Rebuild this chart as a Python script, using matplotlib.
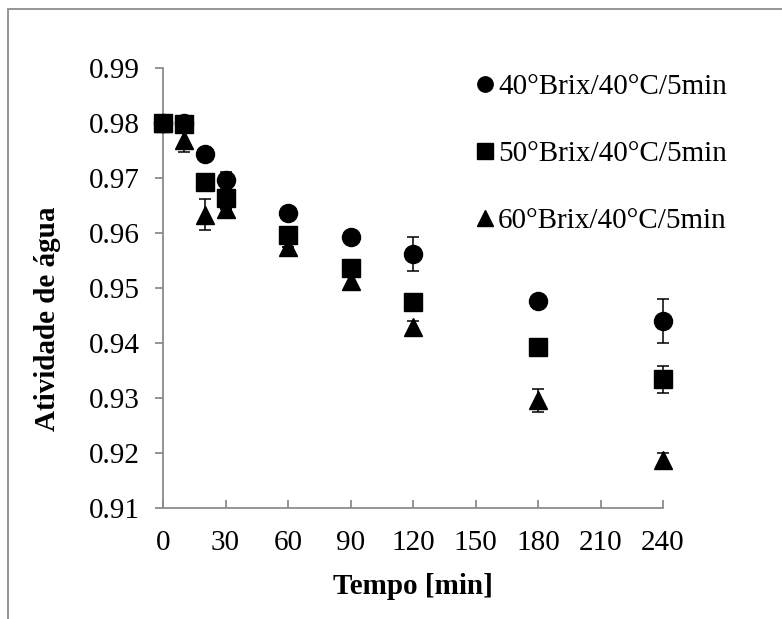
import numpy as np
import matplotlib
matplotlib.use("Agg")
import matplotlib.pyplot as plt
from matplotlib.patches import Rectangle

plt.rcParams['font.family'] = ['Liberation Serif', 'DejaVu Serif']

# Time points (min)
tempo = [0, 10, 20, 30, 60, 90, 120, 180, 240]

# Water activity for each treatment, with standard deviation
aw_40 = [0.9800, 0.9800, 0.9744, 0.9696, 0.9637, 0.9593, 0.9562, 0.9477, 0.9440]
sd_40 = [0.0000, 0.0000, 0.0000, 0.0015, 0.0000, 0.0000, 0.0031, 0.0000, 0.0040]

aw_50 = [0.9800, 0.9798, 0.9693, 0.9664, 0.9596, 0.9536, 0.9474, 0.9393, 0.9334]
sd_50 = [0.0000, 0.0000, 0.0000, 0.0010, 0.0000, 0.0000, 0.0000, 0.0005, 0.0025]

aw_60 = [0.9800, 0.9769, 0.9633, 0.9644, 0.9575, 0.9513, 0.9430, 0.9296, 0.9187]
sd_60 = [0.0000, 0.0022, 0.0028, 0.0000, 0.0000, 0.0010, 0.0010, 0.0021, 0.0013]

labels = ['40°Brix/40°C/5min', '50°Brix/40°C/5min', '60°Brix/40°C/5min']
markers = ['o', 's', '^']

x_ticks = [0, 30, 60, 90, 120, 150, 180, 210, 240]
y_ticks = [0.91, 0.92, 0.93, 0.94, 0.95, 0.96, 0.97, 0.98, 0.99]

FS = 21

fig = plt.figure(figsize=(7.82, 6.19), dpi=100)
ax = fig.add_axes([163/782, 1 - 508/619, 500/782, 440/619])

series = [(aw_40, sd_40), (aw_50, sd_50), (aw_60, sd_60)]
handles = []
for (y, sd), m, lab in zip(series, markers, labels):
    eb = ax.errorbar(tempo, y, yerr=sd, fmt='none', ecolor='black', elinewidth=1.1,
                     capsize=4.5, capthick=1.1, zorder=2)
    for art in eb.lines[1] + eb.lines[2]:
        art.set_clip_on(False)
    h, = ax.plot(tempo, y, linestyle='none', marker=m, color='black',
                 markersize=13, zorder=3, label=lab, clip_on=False)
    handles.append(h)

ax.set_xlim(0, 240)
ax.set_ylim(0.91, 0.99)
ax.set_xticks(x_ticks)
ax.set_yticks(y_ticks)
ax.set_yticklabels([f'{v:.2f}' for v in y_ticks])

for s in ['top', 'right']:
    ax.spines[s].set_visible(False)
for s in ['left', 'bottom']:
    ax.spines[s].set_color('#8c8c8c')
    ax.spines[s].set_linewidth(1.3)

ax.tick_params(axis='y', direction='out', length=6, width=1.3, color='#8c8c8c',
               labelsize=FS, pad=11)
ax.tick_params(axis='x', direction='in', length=6, width=1.3, color='#8c8c8c',
               labelsize=FS, pad=16)

ax.set_xlabel('Tempo [min]', fontsize=FS, fontweight='bold', labelpad=12)
fig.text(48/782, 1 - 319/619, 'Atividade de água', rotation=90, fontsize=FS,
         fontweight='bold', ha='center', va='center')

leg = ax.legend(handles=handles, loc='upper left',
                bbox_to_anchor=(476/782, 1 - 74/619), bbox_transform=fig.transFigure,
                frameon=False, fontsize=FS, handlelength=0.6, handletextpad=0.15,
                labelspacing=1.38, markerscale=0.85, borderpad=0, borderaxespad=0)

# outer frame like the original chart area
fig.patches.append(Rectangle((8/782, -0.1), 1.2, 1 - 9/619 + 0.1,
                             transform=fig.transFigure, fill=False,
                             edgecolor='#8c8c8c', linewidth=1.3))

fig.savefig('out.png', dpi=100)
